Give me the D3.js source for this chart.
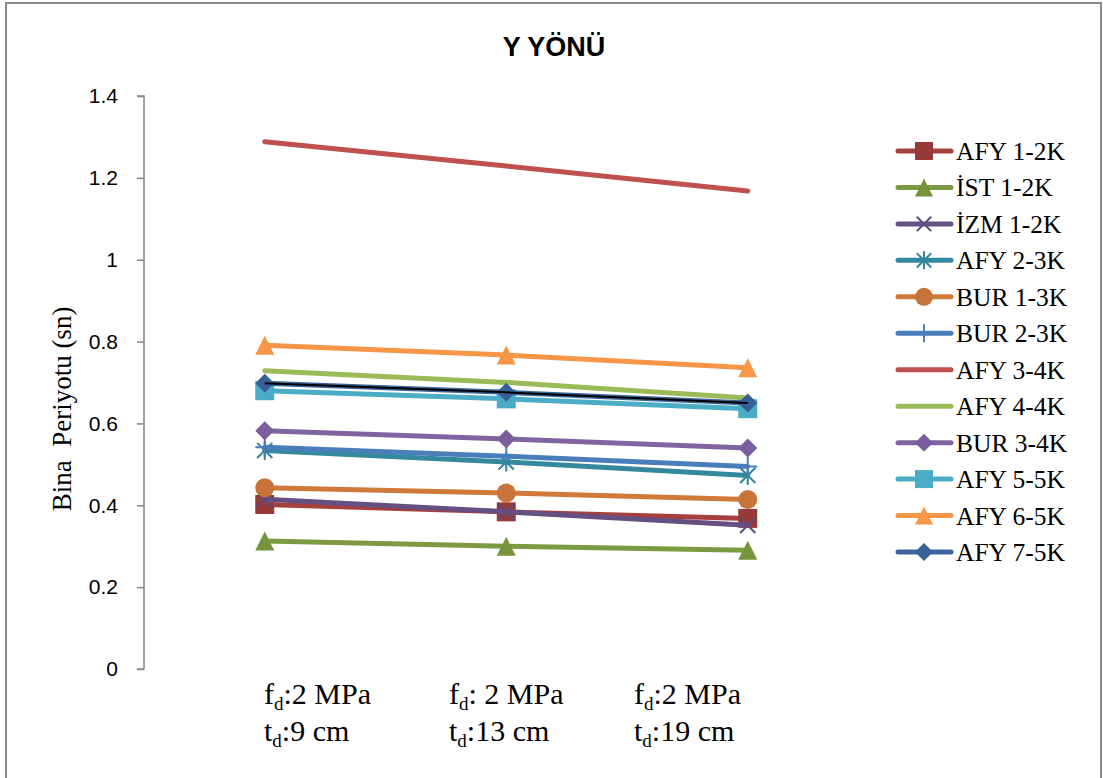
<!DOCTYPE html>
<html>
<head>
<meta charset="utf-8">
<script src="https://cdnjs.cloudflare.com/ajax/libs/d3/7.8.5/d3.min.js"></script>
<style>
  html, body { margin: 0; padding: 0; background: #fff; }
  svg { display: block; }
</style>
</head>
<body>
<svg id="chart" width="1103" height="778"></svg>
<script>
// ---------------- data ----------------
const fdLabels = [":2 MPa", ": 2 MPa", ":2 MPa"];
const tdLabels = [":9 cm", ":13 cm", ":19 cm"];
const categories = ["c9", "c13", "c19"];
const yTicks = [0, 0.2, 0.4, 0.6, 0.8, 1, 1.2, 1.4];

const seriesNames = ["AFY 1-2K", "İST 1-2K", "İZM 1-2K", "AFY 2-3K", "BUR 1-3K", "BUR 2-3K",
                     "AFY 3-4K", "AFY 4-4K", "BUR 3-4K", "AFY 5-5K", "AFY 6-5K", "AFY 7-5K"];
const afy12 = [0.402, 0.384, 0.368];
const ist12 = [0.313, 0.300, 0.290];
const izm12 = [0.415, 0.384, 0.351];
const afy23 = [0.534, 0.506, 0.473];
const bur13 = [0.443, 0.430, 0.414];
const bur23 = [0.542, 0.520, 0.495];
const afy34 = [1.288, 1.229, 1.168];
const afy44 = [0.729, 0.700, 0.662];
const bur34 = [0.582, 0.562, 0.540];
const afy55 = [0.680, 0.660, 0.636];
const afy65 = [0.791, 0.767, 0.736];
const afy75 = [0.698, 0.676, 0.650];
const seriesValues = [afy12, ist12, izm12, afy23, bur13, bur23, afy34, afy44, bur34, afy55, afy65, afy75];

// ---------------- styles ----------------
const seriesColors = ["#A5403C", "#7D9A42", "#664F83", "#35899F", "#D0793A", "#4A7EBB",
                      "#C0504D", "#9BBB59", "#8064A2", "#4BACC6", "#F79646", "#3C6699"];
const markerColors = ["#983A37", "#77933C", "#5F4A7D", "#31859C", "#C8733A", "#4A7EBB",
                      "#C0504D", "#9BBB59", "#7A5E9E", "#4BACC6", "#F79646", "#376096"];
const seriesMarkers = ["square", "triangle", "x", "star", "circle", "plus",
                       "none", "none", "diamond", "square", "triangle", "diamond"];

// ---------------- layout ----------------
const svg = d3.select("#chart");
const plot = { left: 144, right: 868.5, top: 96, bottom: 669 };

// frame
svg.append("rect").attr("x", 6).attr("y", 3).attr("width", 1095).attr("height", 800)
  .attr("fill", "#fff").attr("stroke", "#8a8a8a").attr("stroke-width", 2);

const x = d3.scalePoint().domain(categories).range([plot.left, plot.right]).padding(0.5);
const y = d3.scaleLinear().domain([0, 1.4]).range([plot.bottom, plot.top]);

// title
svg.append("text").attr("x", 554).attr("y", 56).attr("text-anchor", "middle")
  .attr("font-family", "'Liberation Sans Narrow', 'Liberation Sans', Arial, sans-serif")
  .attr("font-weight", "bold").attr("font-size", 27).attr("fill", "#000")
  .text("Y YÖNÜ");

// y axis
const yAxis = d3.axisLeft(y).tickValues(yTicks).tickSize(7).tickPadding(19)
  .tickFormat(d => String(d));
const gy = svg.append("g").attr("transform", `translate(${plot.left},0)`).call(yAxis);
gy.attr("font-size", 21).attr("font-family", "'Liberation Sans', Arial, sans-serif");
gy.select(".domain").attr("stroke", "#868686").attr("stroke-width", 1.5)
  .attr("d", `M-7,${plot.top}H0V${plot.bottom}H-7`);
gy.selectAll(".tick line").attr("stroke", "#868686").attr("stroke-width", 1.5);
gy.selectAll(".tick text").style("font-size", "21px")
  .style("font-family", "'Liberation Sans', Arial, sans-serif").attr("fill", "#000");

// y title
svg.append("text").attr("transform", "translate(71,409) rotate(-90)")
  .attr("text-anchor", "middle").style("white-space", "pre")
  .attr("font-family", "'Liberation Serif', 'Times New Roman', serif")
  .attr("font-size", 27).attr("fill", "#000")
  .text("Bina  Periyotu (sn)");

// x labels (two lines, subscript d)
const xLab = d3.scalePoint().domain(categories).range([264, 634]);
const labFont = "'Liberation Serif', 'Times New Roman', serif";
function addLabel(sel, letter, rest, yPos) {
  const t = sel.append("text").attr("y", yPos).style("white-space", "pre")
    .attr("font-family", labFont).attr("font-size", 30).attr("fill", "#000");
  t.append("tspan").text(letter);
  t.append("tspan").attr("font-size", 19).attr("dy", 6).text("d");
  t.append("tspan").attr("dy", -6).text(rest);
  return t;
}
categories.forEach((c, i) => {
  const g = svg.append("g").attr("transform", `translate(${xLab(c)},0)`);
  addLabel(g, "f", fdLabels[i], 704);
  addLabel(g, "t", tdLabels[i], 741);
});

// marker drawing
function drawMarker(g, type, color, size) {
  const s = size / 2;
  if (type === "square") {
    g.append("rect").attr("x", -s).attr("y", -s).attr("width", size).attr("height", size)
      .attr("fill", color);
  } else if (type === "triangle") {
    g.append("path").attr("d", `M0,${-s}L${s},${s}L${-s},${s}Z`).attr("fill", color);
  } else if (type === "diamond") {
    g.append("path").attr("d", `M0,${-s}L${s},0L0,${s}L${-s},0Z`).attr("fill", color);
  } else if (type === "circle") {
    g.append("circle").attr("r", s).attr("fill", color);
  } else if (type === "x") {
    g.append("path").attr("d", `M${-s * 0.8},${-s * 0.8}L${s * 0.8},${s * 0.8}M${-s * 0.8},${s * 0.8}L${s * 0.8},${-s * 0.8}`)
      .attr("stroke", color).attr("stroke-width", 2).attr("fill", "none");
  } else if (type === "star") {
    g.append("path").attr("d", `M${-s * 0.8},${-s * 0.8}L${s * 0.8},${s * 0.8}M${-s * 0.8},${s * 0.8}L${s * 0.8},${-s * 0.8}M0,${-s}L0,${s}`)
      .attr("stroke", color).attr("stroke-width", 2).attr("fill", "none");
  } else if (type === "plus") {
    g.append("path").attr("d", `M0,${-s}L0,${s}M${-s},0L${s},0`)
      .attr("stroke", color).attr("stroke-width", 2).attr("fill", "none");
  }
}

// series
const line = d3.line().x((d, i) => x(categories[i])).y(d => y(d));
seriesValues.forEach((vals, k) => {
  const g = svg.append("g");
  g.append("path").attr("d", line(vals)).attr("fill", "none")
    .attr("stroke", seriesColors[k]).attr("stroke-width", 5)
    .attr("stroke-linecap", "round").attr("stroke-linejoin", "round");
  vals.forEach((v, i) => {
    const m = g.append("g").attr("transform", `translate(${x(categories[i])},${y(v)})`);
    drawMarker(m, seriesMarkers[k], markerColors[k], 19);
  });
});
// thin black line over the AFY 7-5K series
svg.append("path").attr("d", line(afy75)).attr("fill", "none")
  .attr("stroke", "#000").attr("stroke-width", 2);

// legend
const legend = svg.append("g");
const legY = d3.scaleLinear().domain([0, 11]).range([151, 552]);
seriesNames.forEach((name, k) => {
  const g = legend.append("g").attr("transform", `translate(0,${legY(k)})`);
  g.append("line").attr("x1", 898).attr("x2", 951).attr("y1", 0).attr("y2", 0)
    .attr("stroke", seriesColors[k]).attr("stroke-width", 5).attr("stroke-linecap", "round");
  const m = g.append("g").attr("transform", "translate(924,0)");
  drawMarker(m, seriesMarkers[k], markerColors[k], 18);
  g.append("text").attr("x", 956).attr("y", 9)
    .attr("font-family", "'Liberation Serif', 'Times New Roman', serif")
    .attr("font-size", 25.5).attr("fill", "#000").text(name);
});
</script>
</body>
</html>
